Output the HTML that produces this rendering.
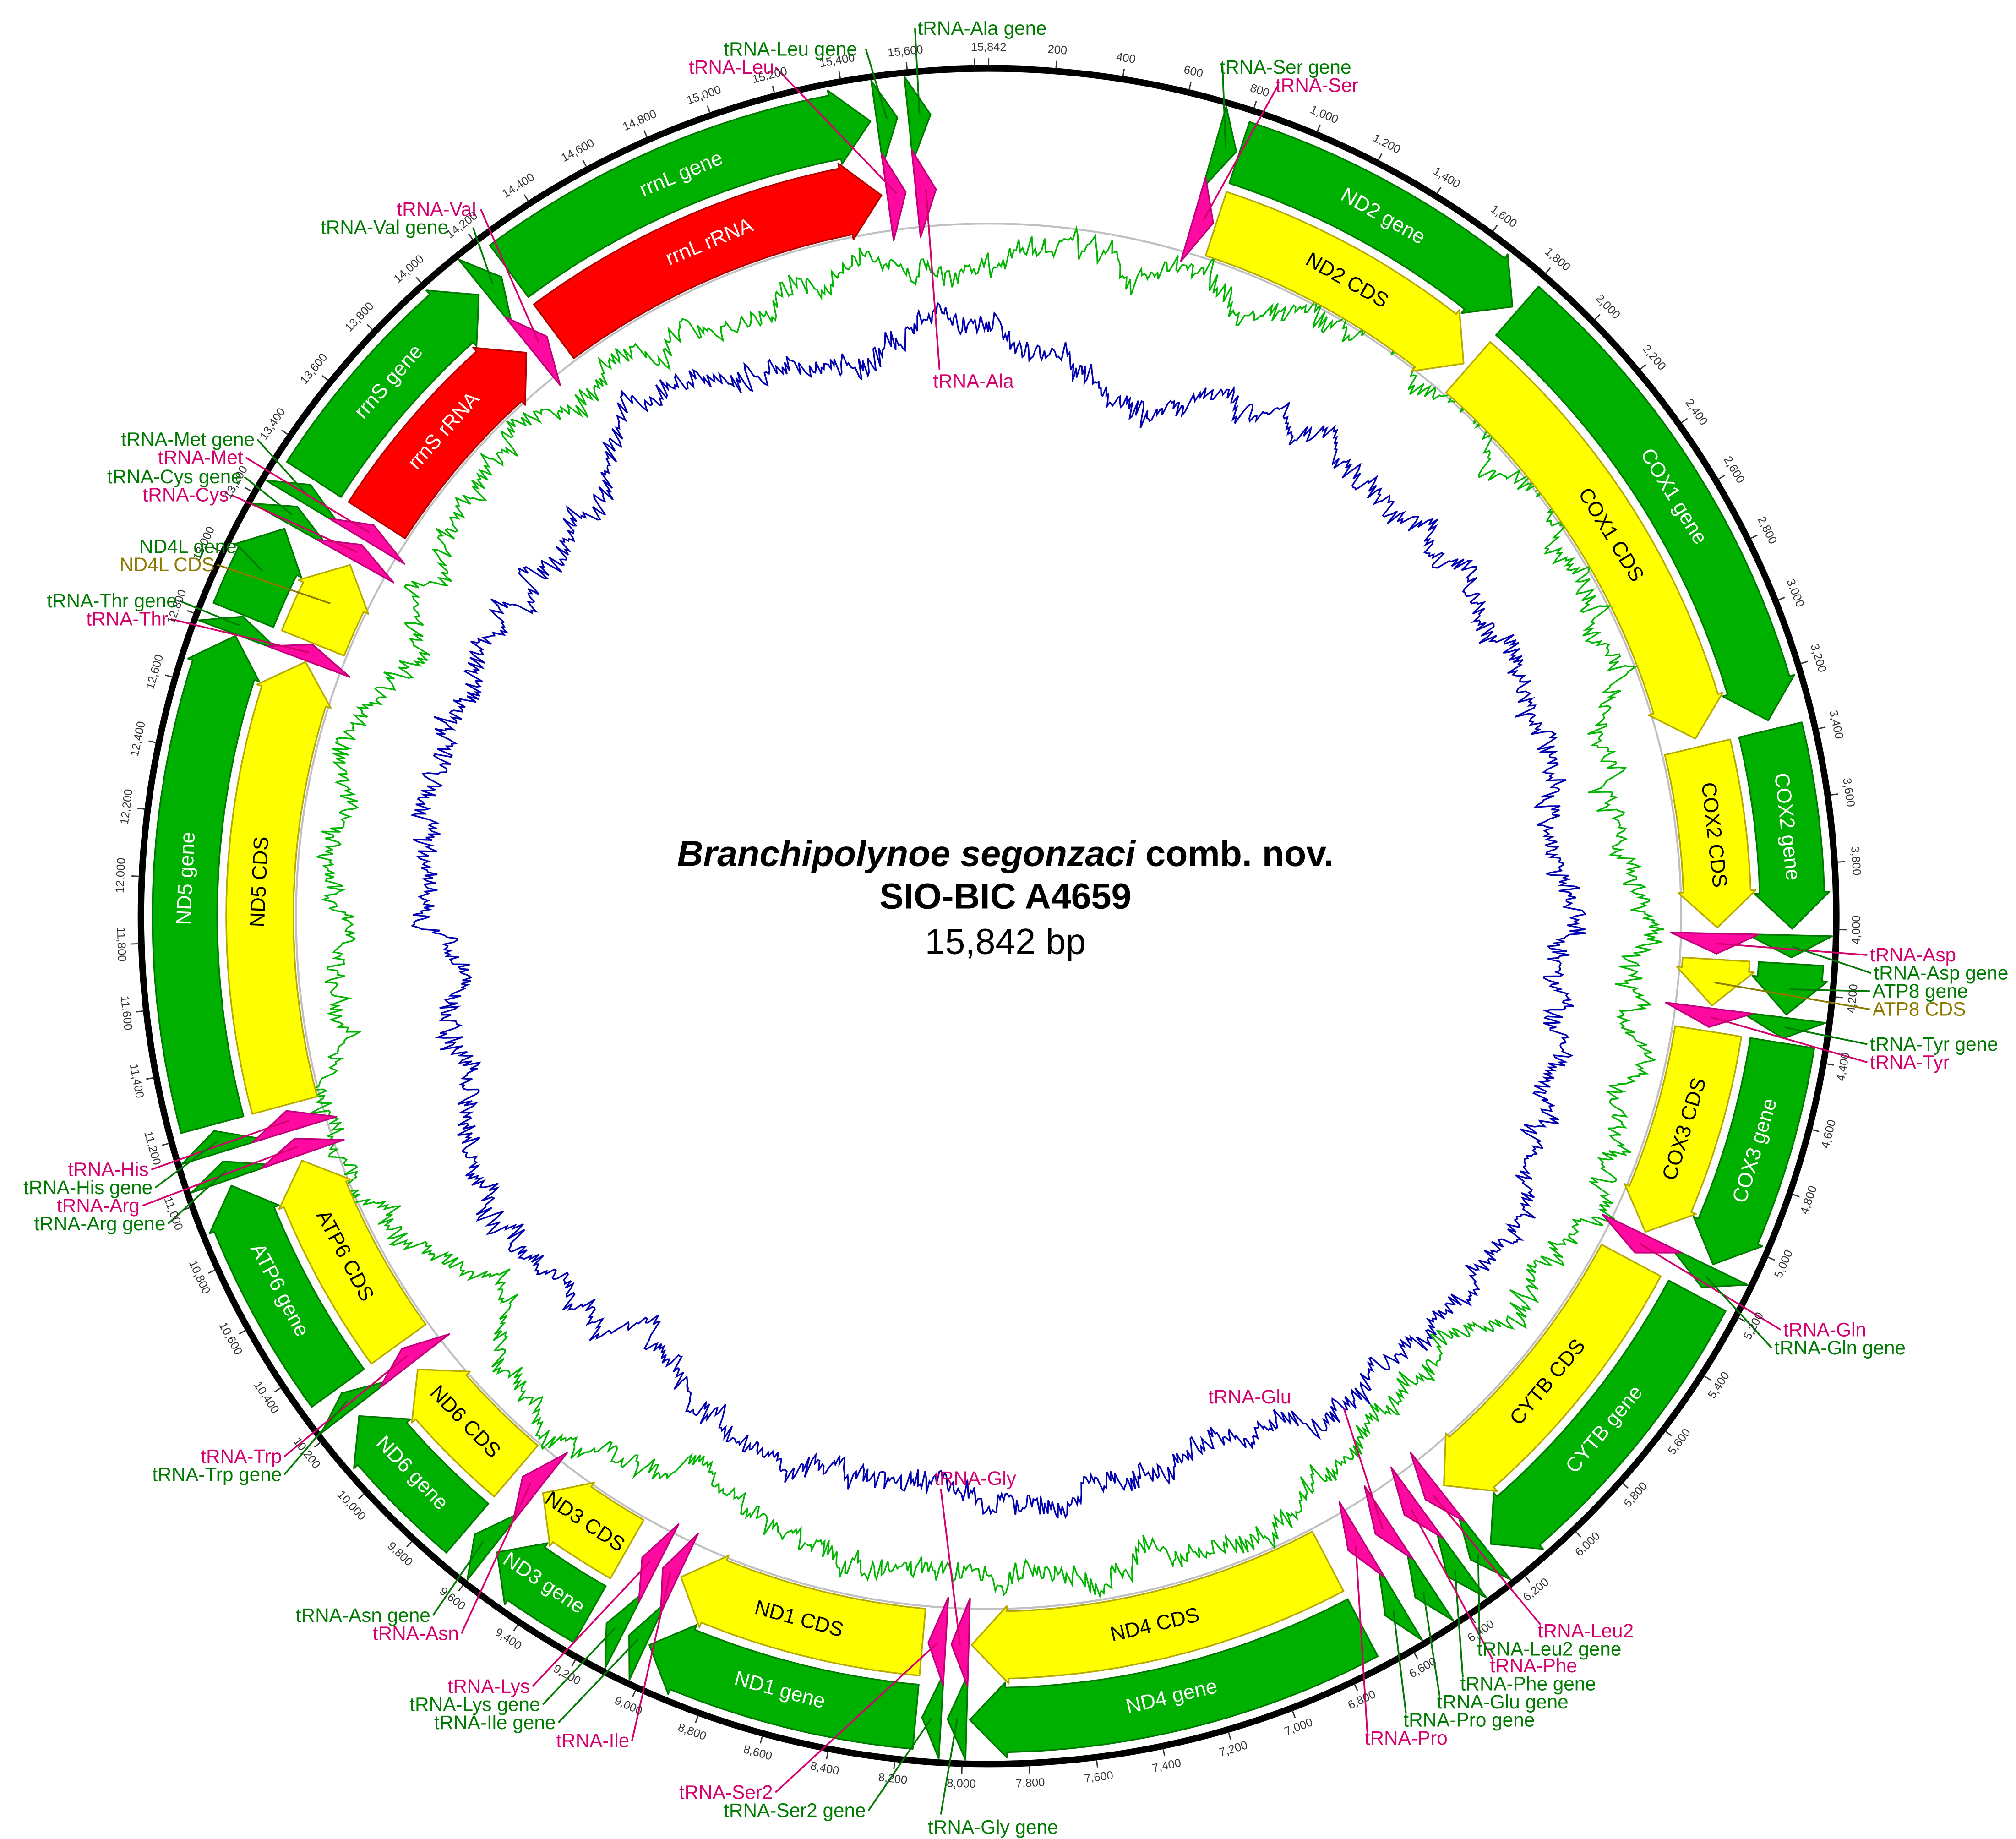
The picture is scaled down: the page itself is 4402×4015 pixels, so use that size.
<!DOCTYPE html>
<html><head><meta charset="utf-8"><style>
html,body{margin:0;padding:0;background:#fff;}
svg{display:block;}
.lb{font-family:"Liberation Sans",sans-serif;font-size:15px;}
.g{fill:#007a00}.p{fill:#d4006e}.o{fill:#8a7a00}
.tk{font-family:"Liberation Sans",sans-serif;font-size:9px;fill:#333;text-anchor:middle;dominant-baseline:middle;}
.in{font-family:"Liberation Sans",sans-serif;font-size:16px;text-anchor:middle;dominant-baseline:middle;}
</style></head><body>
<svg id="s" width="4402" height="4015" viewBox="0 0 1560 1423" xmlns="http://www.w3.org/2000/svg">
<rect width="1560" height="1423" fill="#fff"/>
<g id="shapes"></g>
<g id="lines"></g>
<text x="778" y="670" text-anchor="middle" font-family="Liberation Sans, sans-serif" font-size="28" font-weight="bold"><tspan font-style="italic">Branchipolynoe segonzaci</tspan> comb. nov.</text>
<text x="778" y="703" text-anchor="middle" font-family="Liberation Sans, sans-serif" font-size="28" font-weight="bold">SIO-BIC A4659</text>
<text x="778" y="738" text-anchor="middle" font-family="Liberation Sans, sans-serif" font-size="28">15,842 bp</text>

<g class="in">
<text fill="#fff" transform="rotate(29.4 765 709) translate(765 88)">ND2 gene</text>
<text fill="#000" transform="rotate(29.4 765 709) translate(765 145)">ND2 CDS</text>
<text fill="#fff" transform="rotate(58.5 765 709) translate(765 88)">COX1 gene</text>
<text fill="#000" transform="rotate(58.5 765 709) translate(765 145)">COX1 CDS</text>
<text fill="#fff" transform="rotate(83.6 765 709) translate(765 88)">COX2 gene</text>
<text fill="#000" transform="rotate(83.6 765 709) translate(765 145)">COX2 CDS</text>
<text fill="#fff" transform="rotate(107 765 709) translate(765 88) rotate(180)">COX3 gene</text>
<text fill="#000" transform="rotate(107 765 709) translate(765 145) rotate(180)">COX3 CDS</text>
<text fill="#fff" transform="rotate(129.8 765 709) translate(765 88) rotate(180)">CYTB gene</text>
<text fill="#000" transform="rotate(129.8 765 709) translate(765 145) rotate(180)">CYTB CDS</text>
<text fill="#fff" transform="rotate(166.8 765 709) translate(765 88) rotate(180)">ND4 gene</text>
<text fill="#000" transform="rotate(166.8 765 709) translate(765 145) rotate(180)">ND4 CDS</text>
<text fill="#fff" transform="rotate(195.1 765 709) translate(765 88) rotate(180)">ND1 gene</text>
<text fill="#000" transform="rotate(195.1 765 709) translate(765 145) rotate(180)">ND1 CDS</text>
<text fill="#fff" transform="rotate(213.7 765 709) translate(765 88) rotate(180)">ND3 gene</text>
<text fill="#000" transform="rotate(213.7 765 709) translate(765 145) rotate(180)">ND3 CDS</text>
<text fill="#fff" transform="rotate(226 765 709) translate(765 88) rotate(180)">ND6 gene</text>
<text fill="#000" transform="rotate(226 765 709) translate(765 145) rotate(180)">ND6 CDS</text>
<text fill="#fff" transform="rotate(242.2 765 709) translate(765 88) rotate(180)">ATP6 gene</text>
<text fill="#000" transform="rotate(242.2 765 709) translate(765 145) rotate(180)">ATP6 CDS</text>
<text fill="#fff" transform="rotate(272.7 765 709) translate(765 88)">ND5 gene</text>
<text fill="#000" transform="rotate(272.7 765 709) translate(765 145)">ND5 CDS</text>
<text fill="#fff" transform="rotate(311.7 765 709) translate(765 88)">rrnS gene</text>
<text fill="#fff" transform="rotate(311.7 765 709) translate(765 145)">rrnS rRNA</text>
<text fill="#fff" transform="rotate(337.5 765 709) translate(765 88)">rrnL gene</text>
<text fill="#fff" transform="rotate(337.5 765 709) translate(765 145)">rrnL rRNA</text>
</g>

<g class="tk">
<text x="765" y="37">15,842</text>
<text x="765" y="37" transform="rotate(4.54 765 709)">200</text>
<text x="765" y="37" transform="rotate(9.09 765 709)">400</text>
<text x="765" y="37" transform="rotate(13.63 765 709)">600</text>
<text x="765" y="37" transform="rotate(18.18 765 709)">800</text>
<text x="765" y="37" transform="rotate(22.72 765 709)">1,000</text>
<text x="765" y="37" transform="rotate(27.27 765 709)">1,200</text>
<text x="765" y="37" transform="rotate(31.81 765 709)">1,400</text>
<text x="765" y="37" transform="rotate(36.36 765 709)">1,600</text>
<text x="765" y="37" transform="rotate(40.90 765 709)">1,800</text>
<text x="765" y="37" transform="rotate(45.45 765 709)">2,000</text>
<text x="765" y="37" transform="rotate(49.99 765 709)">2,200</text>
<text x="765" y="37" transform="rotate(54.54 765 709)">2,400</text>
<text x="765" y="37" transform="rotate(59.08 765 709)">2,600</text>
<text x="765" y="37" transform="rotate(63.63 765 709)">2,800</text>
<text x="765" y="37" transform="rotate(68.17 765 709)">3,000</text>
<text x="765" y="37" transform="rotate(72.72 765 709)">3,200</text>
<text x="765" y="37" transform="rotate(77.26 765 709)">3,400</text>
<text x="765" y="37" transform="rotate(81.81 765 709)">3,600</text>
<text x="765" y="37" transform="rotate(86.35 765 709)">3,800</text>
<text x="765" y="37" transform="rotate(90.90 765 709) rotate(180 765 37)">4,000</text>
<text x="765" y="37" transform="rotate(95.44 765 709) rotate(180 765 37)">4,200</text>
<text x="765" y="37" transform="rotate(99.99 765 709) rotate(180 765 37)">4,400</text>
<text x="765" y="37" transform="rotate(104.53 765 709) rotate(180 765 37)">4,600</text>
<text x="765" y="37" transform="rotate(109.08 765 709) rotate(180 765 37)">4,800</text>
<text x="765" y="37" transform="rotate(113.62 765 709) rotate(180 765 37)">5,000</text>
<text x="765" y="37" transform="rotate(118.17 765 709) rotate(180 765 37)">5,200</text>
<text x="765" y="37" transform="rotate(122.71 765 709) rotate(180 765 37)">5,400</text>
<text x="765" y="37" transform="rotate(127.26 765 709) rotate(180 765 37)">5,600</text>
<text x="765" y="37" transform="rotate(131.80 765 709) rotate(180 765 37)">5,800</text>
<text x="765" y="37" transform="rotate(136.35 765 709) rotate(180 765 37)">6,000</text>
<text x="765" y="37" transform="rotate(140.89 765 709) rotate(180 765 37)">6,200</text>
<text x="765" y="37" transform="rotate(145.44 765 709) rotate(180 765 37)">6,400</text>
<text x="765" y="37" transform="rotate(149.98 765 709) rotate(180 765 37)">6,600</text>
<text x="765" y="37" transform="rotate(154.53 765 709) rotate(180 765 37)">6,800</text>
<text x="765" y="37" transform="rotate(159.07 765 709) rotate(180 765 37)">7,000</text>
<text x="765" y="37" transform="rotate(163.62 765 709) rotate(180 765 37)">7,200</text>
<text x="765" y="37" transform="rotate(168.16 765 709) rotate(180 765 37)">7,400</text>
<text x="765" y="37" transform="rotate(172.71 765 709) rotate(180 765 37)">7,600</text>
<text x="765" y="37" transform="rotate(177.25 765 709) rotate(180 765 37)">7,800</text>
<text x="765" y="37" transform="rotate(181.80 765 709) rotate(180 765 37)">8,000</text>
<text x="765" y="37" transform="rotate(186.34 765 709) rotate(180 765 37)">8,200</text>
<text x="765" y="37" transform="rotate(190.89 765 709) rotate(180 765 37)">8,400</text>
<text x="765" y="37" transform="rotate(195.43 765 709) rotate(180 765 37)">8,600</text>
<text x="765" y="37" transform="rotate(199.98 765 709) rotate(180 765 37)">8,800</text>
<text x="765" y="37" transform="rotate(204.52 765 709) rotate(180 765 37)">9,000</text>
<text x="765" y="37" transform="rotate(209.07 765 709) rotate(180 765 37)">9,200</text>
<text x="765" y="37" transform="rotate(213.61 765 709) rotate(180 765 37)">9,400</text>
<text x="765" y="37" transform="rotate(218.16 765 709) rotate(180 765 37)">9,600</text>
<text x="765" y="37" transform="rotate(222.70 765 709) rotate(180 765 37)">9,800</text>
<text x="765" y="37" transform="rotate(227.24 765 709) rotate(180 765 37)">10,000</text>
<text x="765" y="37" transform="rotate(231.79 765 709) rotate(180 765 37)">10,200</text>
<text x="765" y="37" transform="rotate(236.33 765 709) rotate(180 765 37)">10,400</text>
<text x="765" y="37" transform="rotate(240.88 765 709) rotate(180 765 37)">10,600</text>
<text x="765" y="37" transform="rotate(245.42 765 709) rotate(180 765 37)">10,800</text>
<text x="765" y="37" transform="rotate(249.97 765 709) rotate(180 765 37)">11,000</text>
<text x="765" y="37" transform="rotate(254.51 765 709) rotate(180 765 37)">11,200</text>
<text x="765" y="37" transform="rotate(259.06 765 709) rotate(180 765 37)">11,400</text>
<text x="765" y="37" transform="rotate(263.60 765 709) rotate(180 765 37)">11,600</text>
<text x="765" y="37" transform="rotate(268.15 765 709) rotate(180 765 37)">11,800</text>
<text x="765" y="37" transform="rotate(272.69 765 709)">12,000</text>
<text x="765" y="37" transform="rotate(277.24 765 709)">12,200</text>
<text x="765" y="37" transform="rotate(281.78 765 709)">12,400</text>
<text x="765" y="37" transform="rotate(286.33 765 709)">12,600</text>
<text x="765" y="37" transform="rotate(290.87 765 709)">12,800</text>
<text x="765" y="37" transform="rotate(295.42 765 709)">13,000</text>
<text x="765" y="37" transform="rotate(299.96 765 709)">13,200</text>
<text x="765" y="37" transform="rotate(304.51 765 709)">13,400</text>
<text x="765" y="37" transform="rotate(309.05 765 709)">13,600</text>
<text x="765" y="37" transform="rotate(313.60 765 709)">13,800</text>
<text x="765" y="37" transform="rotate(318.14 765 709)">14,000</text>
<text x="765" y="37" transform="rotate(322.69 765 709)">14,200</text>
<text x="765" y="37" transform="rotate(327.23 765 709)">14,400</text>
<text x="765" y="37" transform="rotate(331.78 765 709)">14,600</text>
<text x="765" y="37" transform="rotate(336.32 765 709)">14,800</text>
<text x="765" y="37" transform="rotate(340.87 765 709)">15,000</text>
<text x="765" y="37" transform="rotate(345.41 765 709)">15,200</text>
<text x="765" y="37" transform="rotate(349.96 765 709)">15,400</text>
<text x="765" y="37" transform="rotate(354.50 765 709)">15,600</text>
</g>

<g class="lb">
<text class="g" x="710" y="27">tRNA-Ala gene</text>
<text class="g" x="560" y="43">tRNA-Leu gene</text>
<text class="p" x="533" y="57">tRNA-Leu</text>
<text class="g" x="944" y="57">tRNA-Ser gene</text>
<text class="p" x="987" y="71">tRNA-Ser</text>
<text class="p" x="307" y="167">tRNA-Val</text>
<text class="g" x="248" y="181">tRNA-Val gene</text>
<text class="p" x="722" y="300">tRNA-Ala</text>
<text class="g" x="197" y="345" text-anchor="end">tRNA-Met gene</text>
<text class="p" x="188" y="359" text-anchor="end">tRNA-Met</text>
<text class="g" x="187" y="374" text-anchor="end">tRNA-Cys gene</text>
<text class="p" x="177" y="388" text-anchor="end">tRNA-Cys</text>
<text class="g" x="183" y="428" text-anchor="end">ND4L gene</text>
<text class="o" x="166" y="442" text-anchor="end">ND4L CDS</text>
<text class="g" x="137" y="470" text-anchor="end">tRNA-Thr gene</text>
<text class="p" x="130" y="484" text-anchor="end">tRNA-Thr</text>
<text class="p" x="115" y="910" text-anchor="end">tRNA-His</text>
<text class="g" x="118" y="924" text-anchor="end">tRNA-His gene</text>
<text class="p" x="108" y="938" text-anchor="end">tRNA-Arg</text>
<text class="g" x="128" y="952" text-anchor="end">tRNA-Arg gene</text>
<text class="p" x="218" y="1132" text-anchor="end">tRNA-Trp</text>
<text class="g" x="218" y="1146" text-anchor="end">tRNA-Trp gene</text>
<text class="g" x="333" y="1255" text-anchor="end">tRNA-Asn gene</text>
<text class="p" x="355" y="1269" text-anchor="end">tRNA-Asn</text>
<text class="p" x="410" y="1310" text-anchor="end">tRNA-Lys</text>
<text class="g" x="418" y="1324" text-anchor="end">tRNA-Lys gene</text>
<text class="g" x="430" y="1338" text-anchor="end">tRNA-Ile gene</text>
<text class="p" x="487" y="1352" text-anchor="end">tRNA-Ile</text>
<text class="p" x="598" y="1392" text-anchor="end">tRNA-Ser2</text>
<text class="g" x="670" y="1406" text-anchor="end">tRNA-Ser2 gene</text>
<text class="g" x="718" y="1419">tRNA-Gly gene</text>
<text class="p" x="723" y="1149">tRNA-Gly</text>
<text class="p" x="935" y="1086">tRNA-Glu</text>
<text class="p" x="1056" y="1350">tRNA-Pro</text>
<text class="g" x="1086" y="1336">tRNA-Pro gene</text>
<text class="g" x="1112" y="1322">tRNA-Glu gene</text>
<text class="g" x="1130" y="1308">tRNA-Phe gene</text>
<text class="p" x="1153" y="1294">tRNA-Phe</text>
<text class="g" x="1143" y="1281">tRNA-Leu2 gene</text>
<text class="p" x="1190" y="1267">tRNA-Leu2</text>
<text class="p" x="1380" y="1034">tRNA-Gln</text>
<text class="g" x="1373" y="1048">tRNA-Gln gene</text>
<text class="p" x="1447" y="744">tRNA-Asp</text>
<text class="g" x="1450" y="758">tRNA-Asp gene</text>
<text class="g" x="1449" y="772">ATP8 gene</text>
<text class="o" x="1449" y="786">ATP8 CDS</text>
<text class="g" x="1447" y="813">tRNA-Tyr gene</text>
<text class="p" x="1447" y="827">tRNA-Tyr</text>
</g>
</svg>
<script>
(function(){
var NS="http://www.w3.org/2000/svg",cx=765,cy=709,L=15842;
function pt(p,r){var a=p/L*2*Math.PI;return [cx+r*Math.sin(a),cy-r*Math.cos(a)];}
function el(tag,at,par){var e=document.createElementNS(NS,tag);for(var k in at)e.setAttribute(k,at[k]);par.appendChild(e);return e;}
var S=document.getElementById('shapes'),LN=document.getElementById('lines');
el('circle',{cx:cx,cy:cy,r:536,fill:'none',stroke:'#c0c0c0','stroke-width':1.5},S);
el('circle',{cx:cx,cy:cy,r:656,fill:'none',stroke:'#000','stroke-width':5},S);
for(var k=0;k<80;k++){var p=k*200;if(p>L)break;var a=pt(p,658),b=pt(p,664);
 el('line',{x1:a[0],y1:a[1],x2:b[0],y2:b[1],stroke:'#333','stroke-width':1},S);}
var seed=7;function rnd(){seed=(seed*16807)%2147483647;return seed/2147483647;}
function curve(base,amp,col){var v=0,w=0,d='';for(var p=0;p<=L;p+=8){v+= (rnd()-0.5)*amp*0.25; v*=0.985; w=v+(rnd()-0.5)*amp*0.35;
 var q=pt(p,base+w);d+=(p?'L':'M')+q[0].toFixed(1)+' '+q[1].toFixed(1);}
 el('path',{d:d+'Z',fill:'none',stroke:col,'stroke-width':1.2},S);}
curve(505,40,'#00b400');curve(450,40,'#0000b0');
function arc(s,e,r,n){var o=[];for(var i=0;i<=n;i++)o.push(pt(s+(e-s)*i/n,r));return o;}
function shape(s,e,r1,r2,fill,stroke,t){
 var rm=(r1+r2)/2,hb=28/rm*L/(2*Math.PI),pts;
 if(!t&&e-s>hb*1.2){var h=e-hb,n=Math.max(2,Math.round((h-s)/20));
  pts=arc(s,h,r2,n);pts.push(pt(h,r2+4));pts.push(pt(e,rm));pts.push(pt(h,r1-4));
  pts=pts.concat(arc(h,s,r1,n));}
 else{pts=[pt(s,r2+6),pt(e,rm),pt(s,r1-10)];}
 el('polygon',{points:pts.map(function(q){return q[0].toFixed(1)+','+q[1].toFixed(1)}).join(' '),fill:fill,stroke:stroke,'stroke-width':1.2,'stroke-linejoin':'round'},S);}
var GR='#00b000',GS='#007800',Y='#ffff00',YS='#b5a800',R='#ff0000',RS='#b00000',P='#ff0aa0',PS='#c0007a';
var G1=597,G2=647,I1=538,I2=590;
var prot=[[800,1790],[1810,3340],[3370,4000],[4110,4270],[4360,5090],[5200,6220],[6700,7980],[8150,9020],[9230,9580],[9700,10190],[10300,11020],[11220,12780],[12850,13150]];
prot.forEach(function(f){shape(f[0],f[1],G1,G2,GR,GS);shape(f[0],f[1],I1,I2,Y,YS);});
[[13330,14110],[14230,15470]].forEach(function(f){shape(f[0],f[1],G1,G2,GR,GS);shape(f[0],f[1],I1,I2,R,RS);});
var trna=[[720,790],[4020,4090],[4280,4345],[5100,5170],[6240,6300],[6330,6390],[6450,6510],[6560,6620],[7990,8050],[8070,8130],[9030,9090],[9110,9170],[9600,9670],[10220,10280],[11040,11100],[11130,11200],[12785,12845],[13170,13230],[13250,13310],[14130,14200],[15490,15555],[15590,15660]];
trna.forEach(function(f){shape(f[0],f[1],G1,G2,GR,GS,1);shape(f[0],f[1],I1,I2,P,PS,1);});
var G='#007a00',PK='#d4006e',O='#8a7a00',gr=622,ir=564;
var ll=[
[708,22,15625,gr,G],[670,38,15522,gr,G],[600,52,15522,ir,PK],[946,52,755,gr,G],[989,66,755,ir,PK],
[372,162,14165,ir,PK],[366,176,14165,gr,G],[727,286,15625,ir,PK],
[199,340,13280,gr,G],[190,354,13280,ir,PK],[189,369,13200,gr,G],[179,383,13200,ir,PK],
[185,423,13000,gr,G],[168,437,13000,ir,O],[139,465,12815,gr,G],[132,479,12815,ir,PK],
[117,905,11165,ir,PK],[120,919,11165,gr,G],[110,933,11070,ir,PK],[130,947,11070,gr,G],
[220,1127,10250,ir,PK],[220,1141,10250,gr,G],[335,1250,9635,gr,G],[357,1264,9635,ir,PK],
[412,1305,9140,ir,PK],[420,1319,9140,gr,G],[432,1333,9060,gr,G],[489,1347,9060,ir,PK],
[600,1387,8100,ir,PK],[672,1401,8100,gr,G],[728,1404,8020,gr,G],[728,1152,8020,ir,PK],
[1040,1090,6480,ir,PK],[1058,1340,6590,ir,PK],[1088,1326,6590,gr,G],[1114,1312,6480,gr,G],
[1132,1298,6360,gr,G],[1155,1284,6360,ir,PK],[1145,1271,6270,gr,G],[1192,1257,6270,ir,PK],
[1378,1029,5135,ir,PK],[1371,1043,5135,gr,G],[1445,739,4055,ir,PK],[1448,753,4055,gr,G],
[1447,767,4190,gr,G],[1447,781,4190,ir,O],[1445,808,4310,gr,G],[1445,822,4310,ir,PK]];
ll.forEach(function(l){var q=pt(l[2],l[3]);
 el('line',{x1:l[0],y1:l[1],x2:q[0],y2:q[1],stroke:l[4],'stroke-width':1.3},LN);});
})();
</script>
</body></html>
